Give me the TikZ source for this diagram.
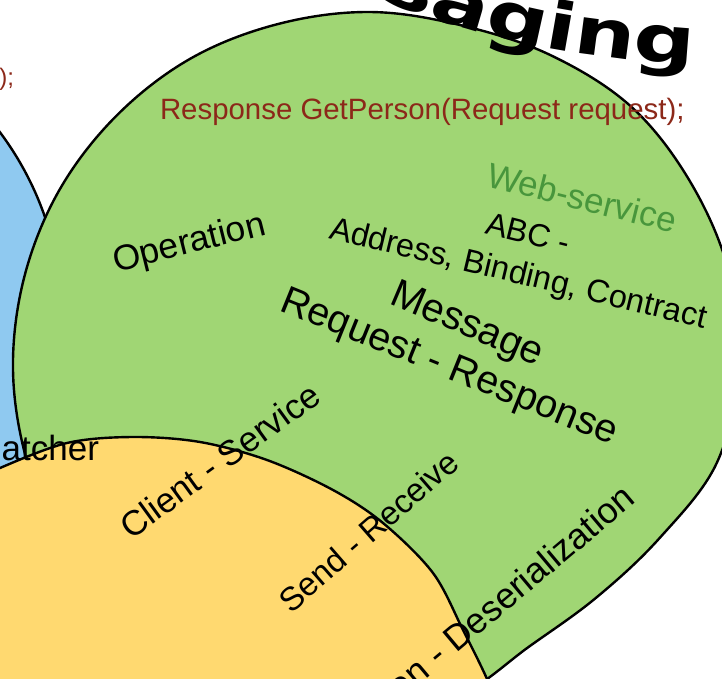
\documentclass[tikz,border=0pt]{standalone}
\usepackage{fontspec}
\usetikzlibrary{decorations.text}
\setmainfont{Liberation Sans}
\newfontfamily\titlefont{DejaVu Sans}[FakeStretch=1.3]
\definecolor{vgreen}{RGB}{160,214,116}
\definecolor{vblue}{RGB}{143,201,240}
\definecolor{vyellow}{RGB}{255,217,112}
\definecolor{wsgreen}{RGB}{72,150,60}
\definecolor{codered}{RGB}{140,40,25}
\newcommand{\fsz}[1]{\fontsize{#1}{#1}\selectfont}
\begin{document}
\begin{tikzpicture}[x=1pt,y=-1pt,
  lbl/.style={inner sep=0pt, outer sep=0pt, anchor=base west, text=black},
  lble/.style={lbl, anchor=base east},
  area/.style={draw=black, line width=2.4pt}]
\useasboundingbox (0,0) rectangle (722,679);
\clip (0,0) rectangle (722,679);
\fill[white] (0,0) rectangle (722,679);
% blue area
\draw[area, fill=vblue] (-250,319) circle[radius=312];
% green area
\draw[area, fill=vgreen] plot[smooth cycle, tension=0.6] coordinates {
  (13,370) (24.2,277.3) (59.1,190.5) (116.1,116.1) (190.3,58.7) (277.3,24.2)
  (370,12) (462.3,25.6) (551.5,55.6) (632.3,107.7) (691.7,184.3) (729.3,273.7)
  (738,370) (716.8,462.9) (660.1,537.5) (597,597) (529.5,646.3) (457.5,696.5)
  (370,715) (279.4,708.1) (194,674.8) (119.7,620.3) (62.6,547.5) (27.1,461.9)};
% yellow area
\draw[area, fill=vyellow] plot[smooth, tension=0.55] coordinates {
  (-20,480) (0,468) (67,443) (133,437) (200,442) (267,460) (333,490) (383,523)
  (433,573) (463,630) (487,679) (500,715)} -- (500,760) -- (-20,760) -- cycle;
% title along a curved baseline
\coordinate (tstart) at (170,-130);
\coordinate (tbend) at (325,-28);
\coordinate (tend) at (694,65);
\path[decorate, decoration={text along path, text align=right,
    text={|\titlefont\bfseries\fsz{66}|Messaging}}]
  (tstart) -- (tbend) .. controls (415,25) and (555,58) .. (tend);
% code lines
\node[lbl, text=codered, font=\fsz{29.4}] (resp) at (160,120) {Response GetPerson(Request request);};
\node[lble, text=codered, font=\fsz{24}] (prev) at (14,86) {);};
% labels
\node[lbl, text=wsgreen, rotate=-14, font=\fsz{35}] (web) at (485,186) {Web-service};
\node[lbl, rotate=-14, font=\fsz{32}] (abc) at (484,233) {ABC -};
\node[lbl, rotate=-13.5, font=\fsz{32.5}] (abcl) at (328,238) {Address, Binding, Contract};
\node[lbl, rotate=-23, font=\fsz{40}] (msg) at (388,303) {Message};
\node[lbl, rotate=-22, font=\fsz{39.5}] (reqresp) at (278,310) {Request - Response};
\node[lbl, rotate=14, font=\fsz{35.5}] (oper) at (116,272) {Operation};
\node[lbl, rotate=36, font=\fsz{35}] (cs) at (131,540) {Client - Service};
\node[lbl, rotate=41, font=\fsz{33}] (sr) at (291,614) {Send - Receive};
\node[lble, rotate=40, font=\fsz{36}] (ser) at (637,502) {Serialization - Deserialization};
\node[lble, font=\fsz{35}] (disp) at (99,460) {Dispatcher};
\end{tikzpicture}
\end{document}
